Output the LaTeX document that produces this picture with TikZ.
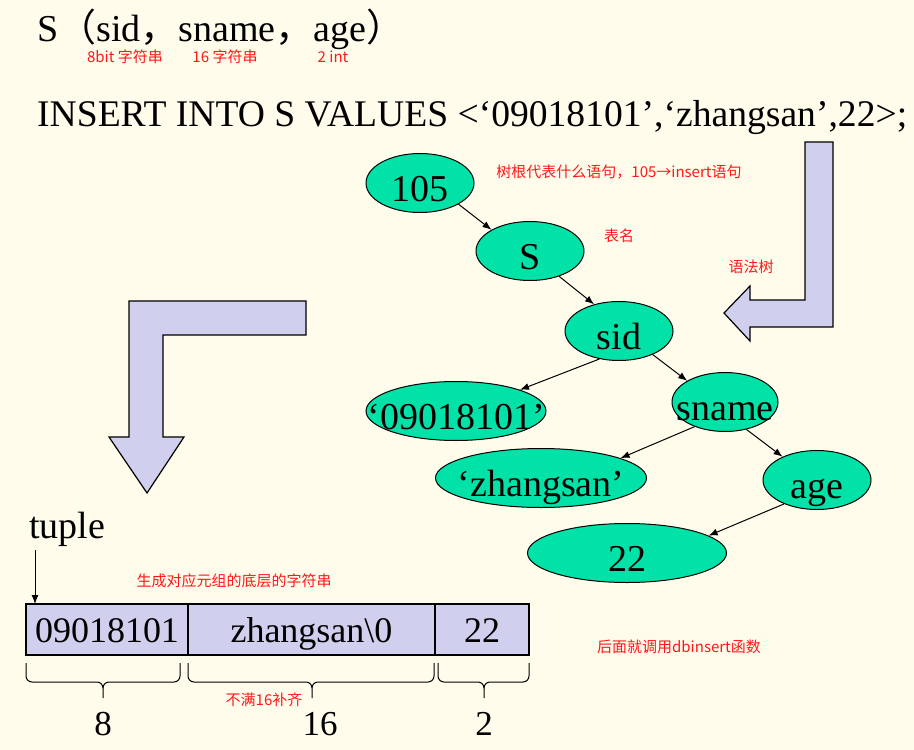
\documentclass[tikz,border=0pt]{standalone}
\usepackage{fontspec}
\setmainfont{Liberation Serif}
\newfontfamily\cjk{Noto Sans CJK SC}
\usetikzlibrary{shapes.geometric,positioning,arrows.meta}
\definecolor{bgcream}{RGB}{255,252,236}
\definecolor{leaf}{RGB}{0,226,168}
\definecolor{lav}{RGB}{208,208,238}
\definecolor{note}{RGB}{255,24,24}
\tikzset{
        tn/.style={ellipse, draw, line width=1pt, fill=leaf, minimum height=59pt, inner sep=0pt, minimum width=#1},
        tl/.style={label={[yshift=-9.5pt, inner sep=0pt, text height=25pt, text depth=8pt, font=\fontsize{38}{40}\selectfont]center:#1}},
        memo/.style={text=note, inner sep=0pt, font=\cjk\fontsize{15}{17}\selectfont},
        link/.style={-{Latex[length=9pt,width=7pt]}, line width=1pt},
        cell/.style={draw, fill=lav, line width=1.2pt, outer sep=0pt, inner sep=0pt, minimum height=51pt, text height=25pt, text depth=0pt, font=\fontsize{36}{40}\selectfont},
        fat/.style={draw, fill=lav, line width=1.2pt, line join=miter}
}
\begin{document}
\begin{tikzpicture}[x=1pt, y=-1pt]
        \fill[bgcream] (0,0) rectangle (914,750);
        \useasboundingbox (0,0) rectangle (914,750);
        % relation and statement
        \node[anchor=base west, inner sep=0pt, font=\fontsize{38}{40}\selectfont] (schema) at (37,41) {S{\cjk（}sid{\cjk，}sname{\cjk，}age{\cjk）}};
        \node[memo] (w8) at (125,57) {8bit 字符串};
        \node[memo] (w16) at (225,57) {16 字符串};
        \node[memo] (w2) at (333,57) {2 int};
        \node[anchor=base west, inner sep=0pt, font=\fontsize{37.6}{40}\selectfont] (sql) at (37,126) {INSERT INTO S VALUES <‘09018101’,‘zhangsan’,22>;};
        % syntax tree
        \node[tn=108pt, tl=105] (root) at (420,183) {};
        \node[tn=108pt, tl=S] (tab) at (530,251) {};
        \node[tn=108pt, tl=sid] (sid) at (619,331) {};
        \node[tn=180pt, tl=‘09018101’] (v1) at (456,411) {};
        \node[tn=106pt, tl=sname] (sname) at (725,402) {};
        \node[tn=211pt, tl=‘zhangsan’] (v2) at (541,478) {};
        \node[tn=108pt, tl=age] (age) at (817,480) {};
        \node[tn=199pt, tl=22] (v3) at (627,553) {};
        \foreach \a/\b in {root.south east/tab.north west, tab.-41/sid.133, sid.-125/v1.north east, sid.-35/sname.north west, sname.-141/v2.14, sname.-52/age.146, age.-144/v3.12} {
                \draw[link] (\a) -- (\b);
            }
        \node[memo] (mroot) at (619,172) {树根代表什么语句，105→insert语句};
        \node[memo] (mtab) at (619,236) {表名};
        \node[memo] (mtree) at (751,267) {语法树};
        % big arrows
        \draw[fat] (805,142) -- (833,142) -- (833,327) -- (750,327) -- (750,341) -- (724,313) -- (750,286) -- (750,300) -- (805,300) -- cycle;
        \draw[fat] (306,301) -- (129,301) -- (129,437) -- (109,437) -- (147,493) -- (184,437) -- (163,437) -- (163,335) -- (306,335) -- cycle;
        % tuple
        \node[anchor=base west, inner sep=0pt, font=\fontsize{38}{40}\selectfont] (tuple) at (29,538) {tuple};
        \node[memo] (mgen) at (234,581) {生成对应元组的底层的字符串};
        \node[cell, minimum width=162pt, anchor=west] (c1) at (26,629.5) {09018101};
        \node[cell, minimum width=247pt, right=0pt of c1] (c2) {zhangsan\textbackslash 0};
        \node[cell, minimum width=94pt, right=0pt of c2] (c3) {22};
        \coordinate (tupat) at ([xshift=9pt]c1.north west);
        \draw[link] ([yshift=-4pt]tupat |- tuple.south) -- (tupat);
        \foreach \a/\m/\b in {26/103/180, 188/312/434, 438/484/529} {
                \draw[line width=1pt] (\a,663) -- (\a,676) to[out=-90,in=180] (\a+6,682) -- (\m-6,682) to[out=0,in=90] (\m,688) -- (\m,698);
                \draw[line width=1pt] (\b,663) -- (\b,676) to[out=-90,in=0] (\b-6,682) -- (\m+6,682) to[out=180,in=90] (\m,688);
            }
        \node[anchor=base, inner sep=0pt, font=\fontsize{35}{40}\selectfont] (n8) at (103,735) {8};
        \node[anchor=base, inner sep=0pt, font=\fontsize{35}{40}\selectfont] (n16) at (320,735) {16};
        \node[anchor=base, inner sep=0pt, font=\fontsize{35}{40}\selectfont] (n2) at (484,735) {2};
        \node[memo] (mpad) at (264,700) {不满16补齐};
        \node[memo] (mcall) at (679,647) {后面就调用dbinsert函数};
    \end{tikzpicture}
\end{document}
